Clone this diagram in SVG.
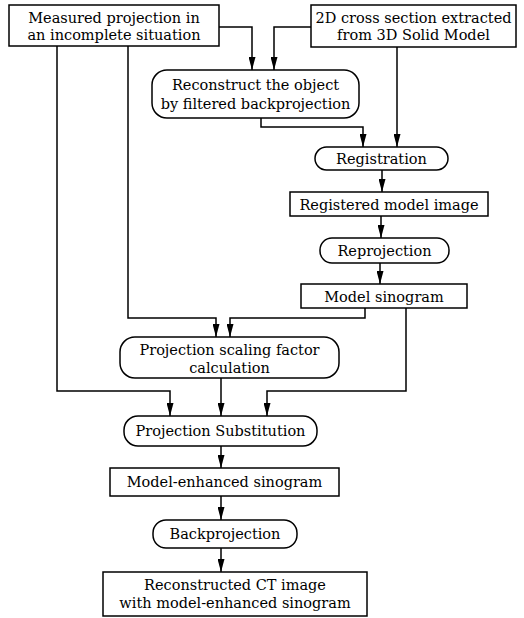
<svg xmlns="http://www.w3.org/2000/svg" width="524" height="618" viewBox="0 0 524 618">
<style>
.box{fill:#fff;stroke:#000;stroke-width:1.5}
.t{font-family:"DejaVu Serif","Liberation Serif",serif;font-size:14.5px;fill:#000;text-anchor:middle}
.c{fill:none;stroke:#000;stroke-width:1.5}
</style>
<defs>
<marker id="ah" viewBox="0 0 13 7" refX="13" refY="3.5" markerWidth="13" markerHeight="7" orient="auto" markerUnits="userSpaceOnUse">
<path d="M0,0 L13,3.5 L0,7 z" fill="#000"/>
</marker>
</defs>
<rect width="524" height="618" fill="#fff"/>
<g id="connectors">
<path class="c" d="M219,27 H252 V70" marker-end="url(#ah)"/>
<path class="c" d="M311,27 H274 V70" marker-end="url(#ah)"/>
<path class="c" d="M128,46 V318 H216 V337" marker-end="url(#ah)"/>
<path class="c" d="M57,46 V391 H170 V416" marker-end="url(#ah)"/>
<path class="c" d="M261,118 V127 H363 V147" marker-end="url(#ah)"/>
<path class="c" d="M397,47 V147" marker-end="url(#ah)"/>
<path class="c" d="M382,170 V192" marker-end="url(#ah)"/>
<path class="c" d="M381,216 V238" marker-end="url(#ah)"/>
<path class="c" d="M380,263 V284" marker-end="url(#ah)"/>
<path class="c" d="M365,308 V318 H230 V337" marker-end="url(#ah)"/>
<path class="c" d="M406,308 V391 H267 V416" marker-end="url(#ah)"/>
<path class="c" d="M221,378 V416" marker-end="url(#ah)"/>
<path class="c" d="M221,446 V468" marker-end="url(#ah)"/>
<path class="c" d="M221,496 V520" marker-end="url(#ah)"/>
<path class="c" d="M221,548 V572" marker-end="url(#ah)"/>
</g>
<g id="measured">
<rect class="box" x="9" y="5" width="210" height="41"/>
<text class="t" x="114" y="22.5">Measured projection in</text>
<text class="t" x="114" y="40">an incomplete situation</text>
</g>
<g id="cross-section">
<rect class="box" x="311" y="5" width="205" height="42"/>
<text class="t" x="413.5" y="22.5">2D cross section extracted</text>
<text class="t" x="413.5" y="40">from 3D Solid Model</text>
</g>
<g id="reconstruct">
<rect class="box" x="152" y="70" width="207" height="48" rx="15" ry="15"/>
<text class="t" x="255.5" y="90">Reconstruct the object</text>
<text class="t" x="255.5" y="108.5">by filtered backprojection</text>
</g>
<g id="registration">
<rect class="box" x="315" y="147" width="133" height="23" rx="11.5" ry="11.5"/>
<text class="t" x="381.5" y="163.5">Registration</text>
</g>
<g id="registered">
<rect class="box" x="290" y="192" width="198" height="24"/>
<text class="t" x="389" y="209.5">Registered model image</text>
</g>
<g id="reprojection">
<rect class="box" x="320" y="238" width="129" height="25" rx="12" ry="12"/>
<text class="t" x="384.5" y="255.5">Reprojection</text>
</g>
<g id="model-sinogram">
<rect class="box" x="301" y="284" width="166" height="24"/>
<text class="t" x="384" y="301.5">Model sinogram</text>
</g>
<g id="scaling">
<rect class="box" x="120" y="337" width="219" height="41" rx="15" ry="15"/>
<text class="t" x="229.5" y="355">Projection scaling factor</text>
<text class="t" x="229.5" y="373">calculation</text>
</g>
<g id="substitution">
<rect class="box" x="124" y="416" width="193" height="30" rx="14" ry="14"/>
<text class="t" x="220.5" y="436">Projection Substitution</text>
</g>
<g id="enhanced">
<rect class="box" x="110" y="468" width="229" height="28"/>
<text class="t" x="224.5" y="487">Model-enhanced sinogram</text>
</g>
<g id="backprojection">
<rect class="box" x="153" y="520" width="144" height="28" rx="13" ry="13"/>
<text class="t" x="225" y="539">Backprojection</text>
</g>
<g id="final">
<rect class="box" x="103" y="572" width="264" height="44"/>
<text class="t" x="235" y="590">Reconstructed CT image</text>
<text class="t" x="235" y="608">with model-enhanced sinogram</text>
</g>
</svg>
